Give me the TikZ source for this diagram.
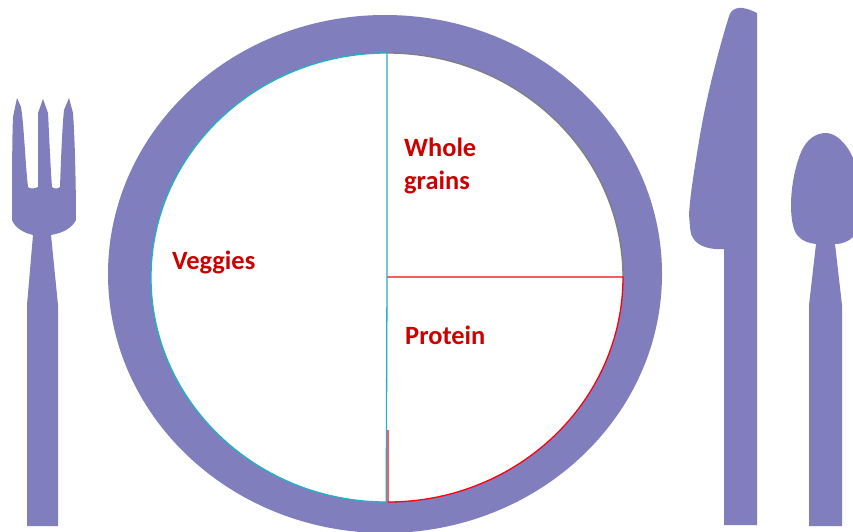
\documentclass[tikz,border=0pt]{standalone}
\usepackage{fontspec}
\setmainfont{Carlito}
\definecolor{ware}{HTML}{807EBD}
\definecolor{lab}{HTML}{CC0000}
\definecolor{tealln}{HTML}{1FB3C8}
\definecolor{redln}{HTML}{FF0010}
\definecolor{grayln}{HTML}{7F7F7F}
\tikzset{ware/.style={fill=ware,draw=none},
 lbl/.style={text=lab,font=\fontsize{26.4}{33}\selectfont\bfseries,anchor=west,inner sep=0pt,align=left},
 seg/.style={line width=1.3pt}}
\begin{document}
\begin{tikzpicture}[x=1pt,y=-1pt]
\useasboundingbox (0,0) rectangle (853,532);
\clip (0,0) rectangle (853,532);
% plate
\fill[ware,even odd rule] (108,274) .. controls (108,131) and (232,15) .. (385,15)
 .. controls (538,15) and (662,131) .. (662,274)
 .. controls (662,417) and (538,533) .. (385,533)
 .. controls (232,533) and (108,417) .. (108,274) -- cycle
 (151,277.5) .. controls (151,153.5) and (256.7,53) .. (387,53)
 .. controls (517.3,53) and (623,153.5) .. (623,277.5)
 .. controls (623,401.5) and (517.3,502) .. (387,502)
 .. controls (256.7,502) and (151,401.5) .. (151,277.5) -- cycle;
% section outlines
\draw[seg,grayln] (387,53) .. controls (517.3,53) and (623,153.5) .. (623,277.5);
\draw[seg,redln] (387,277) -- (623,277)
 .. controls (623,401.5) and (517.3,502) .. (388,502) -- (388,430);
\draw[seg,tealln] (387,53) -- (387,277.5) -- (386.2,502);
\draw[seg,tealln] (386.3,502) .. controls (256.7,502) and (151,401.5) .. (151,277.5)
 .. controls (151,153.5) and (256.7,53) .. (387,53);
% fork
\fill[ware] (17,98) -- (21,107) .. controls (24,125) and (25,160) .. (28,187)
 .. controls (30,189) and (34,189) .. (38,187)
 .. controls (38,160) and (38,130) .. (38,113) -- (43,99) -- (48,113)
 .. controls (49,130) and (50,160) .. (52,187)
 .. controls (54,189) and (58,189) .. (60,187)
 .. controls (61,160) and (62,130) .. (64,110) -- (69,98) -- (73,113)
 .. controls (75,140) and (76,190) .. (76,220)
 .. controls (72,228) and (63,233) .. (51,235) -- (58,305) -- (58,526) -- (27,526) -- (27,305) -- (33,235)
 .. controls (24,233) and (15,228) .. (12,220)
 .. controls (12,190) and (12,140) .. (13,117) -- cycle;
% knife
\fill[ware] (757,13) .. controls (747,8) and (737,5) .. (731,12)
 .. controls (729,15) and (728,20) .. (726,26)
 .. controls (716,60) and (706,100) .. (700,135)
 .. controls (695,165) and (690,195) .. (689,215)
 .. controls (690,225) and (690,235) .. (693,238)
 .. controls (698,247) and (712,250) .. (724,249)
 -- (724,525) -- (757,525) -- cycle;
% spoon
\fill[ware] (853,158) .. controls (846,142) and (835,133) .. (826,133)
 .. controls (815,133) and (807,140) .. (802,150)
 .. controls (796,163) and (791,185) .. (791,205)
 .. controls (791,222) and (794,233) .. (799,237)
 .. controls (803,241) and (808,243) .. (816,244)
 -- (809,305) -- (809,526) -- (842,526) -- (842,305) -- (835,244)
 .. controls (843,244) and (849,241) .. (853,237) -- cycle;
% labels
\node[lbl] (w) at (404,166) {Whole\\grains};
\node[lbl] (v) at (172,262.5) {Veggies};
\node[lbl] (p) at (405,335.5) {Protein};
\end{tikzpicture}
\end{document}
